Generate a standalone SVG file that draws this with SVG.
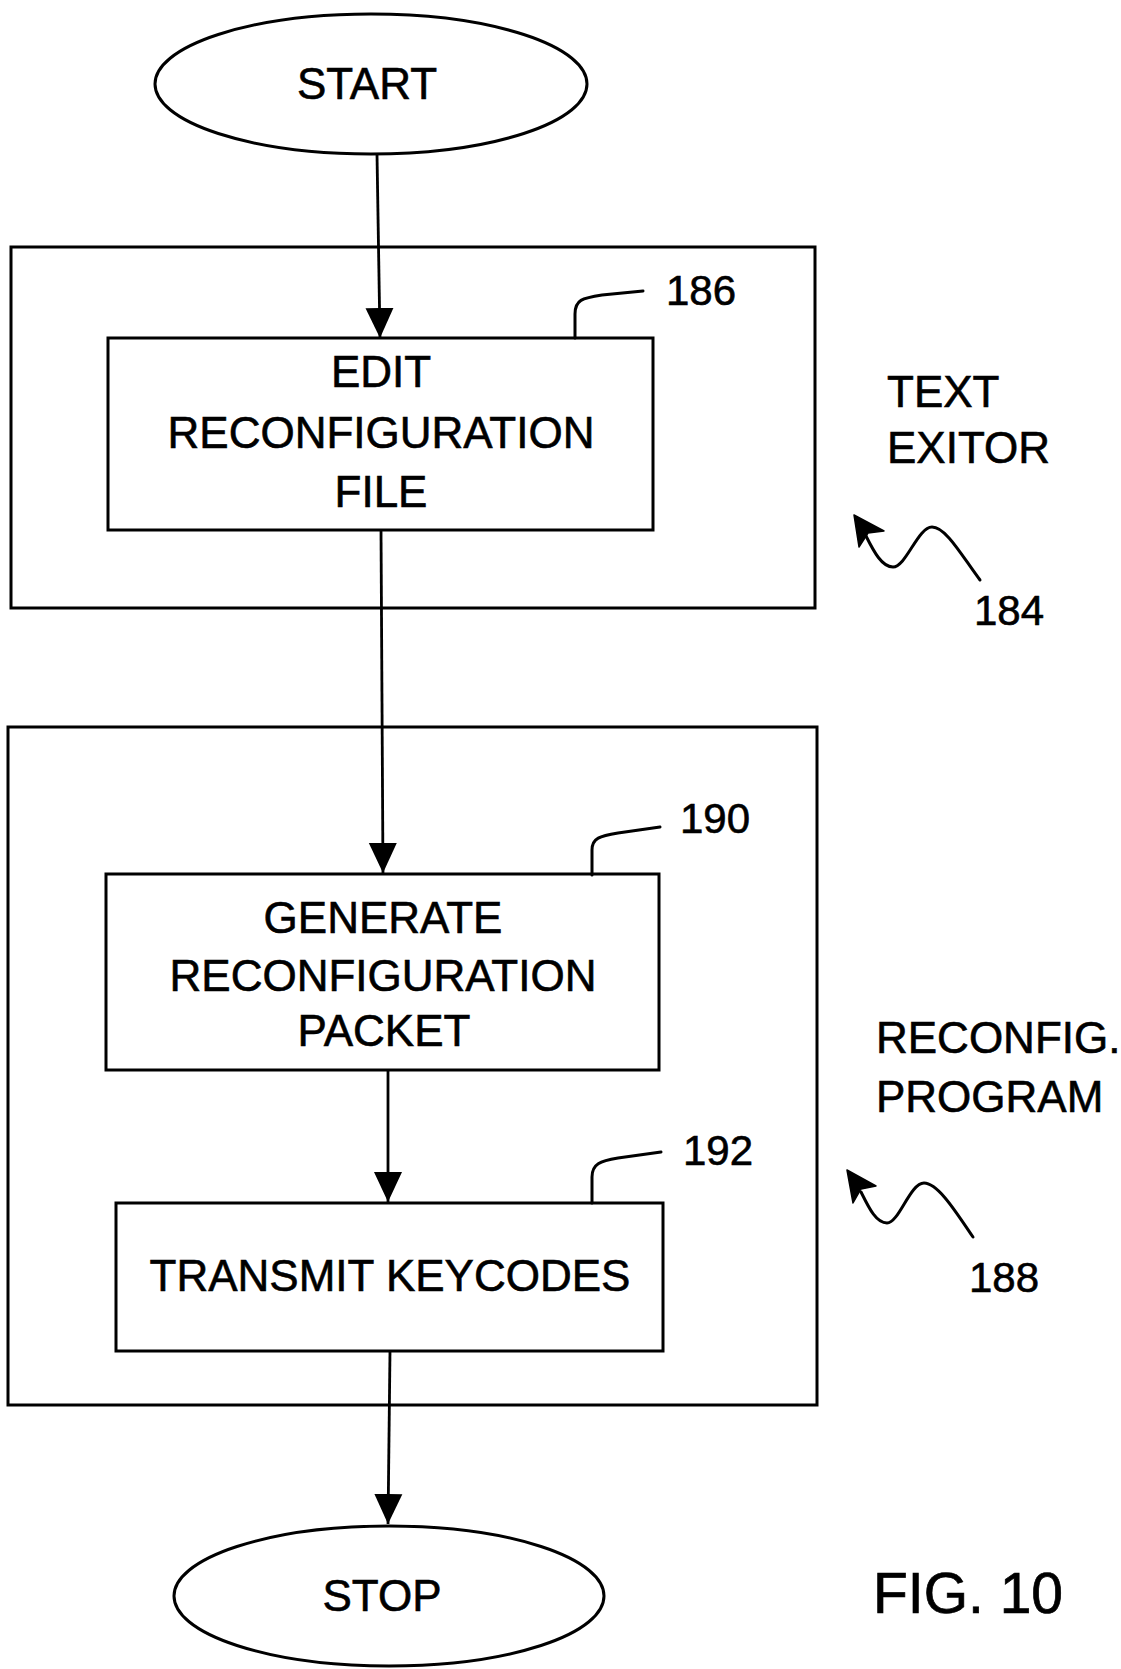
<svg xmlns="http://www.w3.org/2000/svg" width="1121" height="1669" viewBox="0 0 1121 1669">
<defs>
<style>
.shape{fill:none;stroke:#000;stroke-width:3}
.line{fill:none;stroke:#000;stroke-width:2.8}
.lead{fill:none;stroke:#000;stroke-width:3;stroke-linecap:round}
.t{font-family:"Liberation Sans",Arial,sans-serif;font-size:44px;fill:#000;stroke:#000;stroke-width:0.6}
.c{text-anchor:middle}
.n{font-family:"Liberation Sans",Arial,sans-serif;font-size:42px;fill:#000;stroke:#000;stroke-width:0.6}
.fig{font-family:"Liberation Sans",Arial,sans-serif;font-size:57px;fill:#000;stroke:#000;stroke-width:0.7}
</style>
<marker id="ah" markerUnits="userSpaceOnUse" markerWidth="30" markerHeight="32" viewBox="0 0 30 32" refX="30" refY="15" orient="auto">
<path d="M0,1 L30,15 L0,29 Z" fill="#000"/>
</marker>
</defs>
<rect width="1121" height="1669" fill="#fff"/>

<g id="group-text-editor">
<rect class="shape" x="11" y="247" width="804" height="361"/>
</g>
<g id="group-reconfig-program">
<rect class="shape" x="8" y="727" width="809" height="678"/>
</g>

<g id="start">
<ellipse class="shape" cx="371" cy="84" rx="216" ry="70"/>
<text class="t c" x="367" y="99">START</text>
</g>

<g id="edit">
<rect class="shape" x="108" y="338" width="545" height="192"/>
<text class="t c" x="381" y="387">EDIT</text>
<text class="t c" x="381" y="448">RECONFIGURATION</text>
<text class="t c" x="381" y="507">FILE</text>
</g>

<g id="generate">
<rect class="shape" x="106" y="874" width="553" height="196"/>
<text class="t c" x="383" y="933">GENERATE</text>
<text class="t c" x="383" y="991">RECONFIGURATION</text>
<text class="t c" x="384" y="1046">PACKET</text>
</g>

<g id="transmit">
<rect class="shape" x="116" y="1203" width="547" height="148"/>
<text class="t c" x="390" y="1291">TRANSMIT KEYCODES</text>
</g>

<g id="stop">
<ellipse class="shape" cx="389" cy="1596" rx="215" ry="70"/>
<text class="t c" x="382" y="1611">STOP</text>
</g>

<g id="connectors">
<path class="line" d="M377,154 L380,338" marker-end="url(#ah)"/>
<path class="line" d="M381,530 L383,873" marker-end="url(#ah)"/>
<path class="line" d="M388,1070 L388,1202" marker-end="url(#ah)"/>
<path class="line" d="M390,1351 L388,1524" marker-end="url(#ah)"/>
</g>

<g id="labels">
<path class="lead" d="M575,338 V314 C575,300 582,298 602,295 L643,291"/>
<text class="n" x="666" y="305">186</text>
<path class="lead" d="M592,875 V850 C592,838 600,836 618,833 L660,827"/>
<text class="n" x="680" y="833">190</text>
<path class="lead" d="M592,1203 V1177 C592,1164 600,1161 618,1158 L661,1152"/>
<text class="n" x="683" y="1165">192</text>

<text class="t" x="887" y="407">TEXT</text>
<text class="t" x="887" y="463">EXITOR</text>
<path class="lead" d="M980,580 C962,556 946,527 932,527 C918,527 906,567 893,567 C882,567 874,552 866,536"/>
<path d="M854,515 L884,531 L868,533 L859,547 Z" fill="#000" stroke="#000" stroke-width="1.5" stroke-linejoin="round"/>
<text class="n" x="974" y="625">184</text>

<text class="t" x="876" y="1053">RECONFIG.</text>
<text class="t" x="876" y="1112">PROGRAM</text>
<path class="lead" d="M973,1237 C956,1212 938,1183 924,1183 C910,1183 899,1223 887,1223 C876,1223 869,1208 861,1192"/>
<path d="M847,1170 L876,1186 L861,1189 L853,1203 Z" fill="#000" stroke="#000" stroke-width="1.5" stroke-linejoin="round"/>
<text class="n" x="969" y="1292">188</text>

<text class="fig" x="873" y="1613">FIG. 10</text>
</g>
</svg>
